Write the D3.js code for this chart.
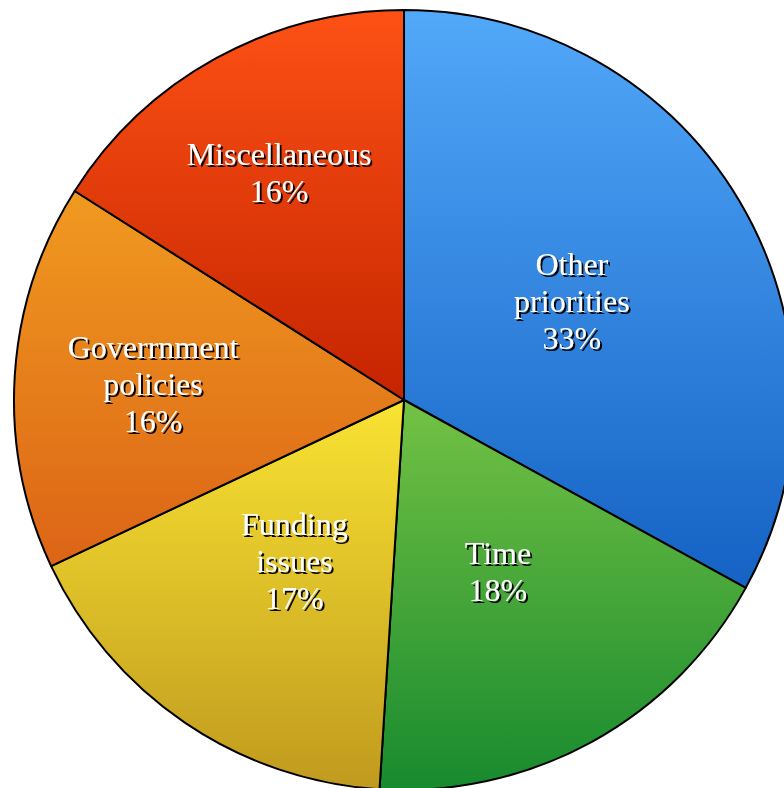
<!DOCTYPE html>
<html>
<head>
<meta charset="utf-8">
<script src="https://cdn.jsdelivr.net/npm/d3@7"></script>
<style>
html,body{margin:0;padding:0;background:#fff;overflow:hidden;}
svg{display:block;}
</style>
</head>
<body>
<svg id="chart" width="784" height="788"></svg>
<script>
const categories = ["Other priorities", "Time", "Funding issues", "Government policies", "Miscellaneous"];
const labelLines = [["Other", "priorities"], ["Time"], ["Funding", "issues"], ["Goverrnment", "policies"], ["Miscellaneous"]];
const values = [33, 18, 17, 16, 16];
const topColors = ["#52a8f9", "#74c244", "#f9e332", "#f09a20", "#fd5115"];
const bottomColors = ["#1462c4", "#178a2e", "#c09a1e", "#dc6416", "#c42400"];

const svg = d3.select("#chart");
const cx = 404, cy = 400, R = 390;
// label distance from centre, as a fraction of the radius (layout setting)
const labelRadius = [0.5, 0.5, 0.5, 0.645, 0.665];
const defs = svg.append("defs");

topColors.forEach((c, i) => {
  const g = defs.append("linearGradient").attr("id", "grad" + i)
    .attr("x1", 0).attr("y1", 0).attr("x2", 0).attr("y2", 1);
  g.append("stop").attr("offset", "0%").attr("stop-color", c);
  g.append("stop").attr("offset", "100%").attr("stop-color", bottomColors[i]);
});

const f = defs.append("filter").attr("id", "shadow")
  .attr("x", "-20%").attr("y", "-20%").attr("width", "140%").attr("height", "140%");
f.append("feDropShadow").attr("dx", 2).attr("dy", 2).attr("stdDeviation", 0.6)
  .attr("flood-color", "#000").attr("flood-opacity", 0.95);

const pie = d3.pie().sort(null).value(d => d);
const arcs = pie(values);
const arc = d3.arc().innerRadius(0).outerRadius(R);

const g = svg.append("g").attr("transform", `translate(${cx},${cy})`);

g.selectAll("path.slice").data(arcs).join("path")
  .attr("class", "slice")
  .attr("d", arc)
  .attr("fill", (d, i) => `url(#grad${i})`)
  .attr("stroke", "#000")
  .attr("stroke-width", 2)
  .attr("stroke-linejoin", "round");

const lineH = 37;
g.selectAll("text.lbl").data(arcs).join("text")
  .attr("class", "lbl")
  .attr("text-anchor", "middle")
  .attr("font-family", "'Liberation Serif', 'Times New Roman', serif")
  .attr("font-size", 32)
  .attr("fill", "#fff")
  .attr("filter", "url(#shadow)")
  .each(function(d, i) {
    const r = R * labelRadius[i];
    const la = d3.arc().innerRadius(r).outerRadius(r);
    const [x, y] = la.centroid(d);
    const lines = labelLines[i].concat([values[i] + "%"]);
    const n = lines.length;
    const t = d3.select(this);
    lines.forEach((ln, k) => {
      t.append("tspan")
        .attr("x", x)
        .attr("y", y + (k - (n - 1) / 2) * lineH)
        .attr("dy", "0.35em")
        .text(ln);
    });
  });
</script>
</body>
</html>
